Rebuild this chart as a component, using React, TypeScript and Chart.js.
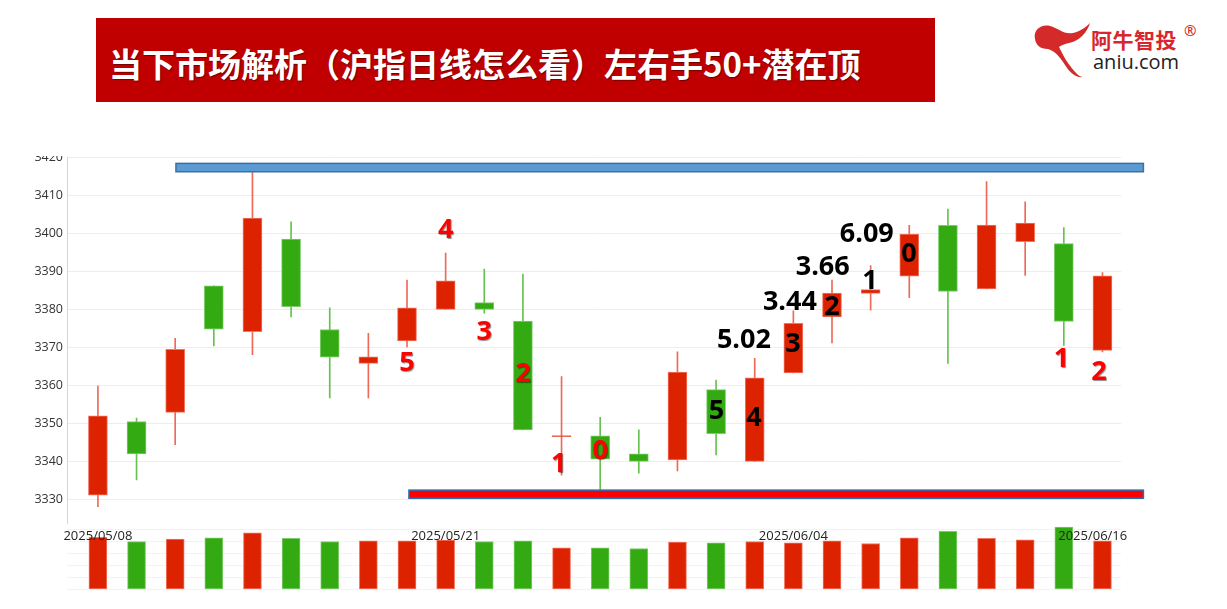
import React, { useEffect, useRef } from "react";
import { Chart, registerables } from "chart.js";
Chart.register(...registerables);

const dates = [
  "2025/05/08", "2025/05/09", "2025/05/12", "2025/05/13", "2025/05/14", "2025/05/15", "2025/05/16",
  "2025/05/19", "2025/05/20", "2025/05/21", "2025/05/22", "2025/05/23", "2025/05/26", "2025/05/27",
  "2025/05/28", "2025/05/29", "2025/05/30", "2025/06/03", "2025/06/04", "2025/06/05", "2025/06/06",
  "2025/06/09", "2025/06/10", "2025/06/11", "2025/06/12", "2025/06/13", "2025/06/16",
];
const opens = [3331.1, 3350.5, 3352.9, 3386.2, 3374.1, 3398.5, 3374.7, 3365.8, 3371.7, 3380.0, 3381.8, 3376.9, 3346.5, 3346.7, 3342.0, 3340.4, 3358.9, 3340.0, 3363.3, 3378.0, 3384.2, 3388.7, 3402.1, 3385.4, 3397.8, 3397.3, 3369.2];
const highs = [3359.8, 3351.4, 3372.4, 3386.2, 3416.6, 3403.0, 3380.4, 3373.7, 3387.7, 3394.8, 3390.6, 3389.3, 3362.3, 3351.6, 3348.3, 3368.8, 3361.4, 3367.1, 3379.6, 3387.7, 3391.5, 3402.1, 3406.4, 3413.6, 3408.3, 3401.5, 3389.7];
const lows = [3328.1, 3335.1, 3344.4, 3370.4, 3368.1, 3378.0, 3356.7, 3356.7, 3370.1, 3380.0, 3379.0, 3348.3, 3336.4, 3332.5, 3336.9, 3337.5, 3341.7, 3340.0, 3363.3, 3371.2, 3379.8, 3383.1, 3365.8, 3385.4, 3388.9, 3370.5, 3368.8];
const closes = [3352.0, 3342.0, 3369.5, 3374.8, 3404.0, 3380.7, 3367.4, 3367.5, 3380.4, 3387.5, 3380.0, 3348.3, 3346.8, 3340.6, 3340.0, 3363.5, 3347.3, 3362.0, 3376.3, 3384.3, 3385.2, 3399.8, 3384.7, 3402.2, 3402.7, 3376.8, 3388.8];
const volumes = [5160, 4760, 5000, 5130, 5630, 5060, 4760, 4830, 4830, 4900, 4760, 4830, 4130, 4130, 4060, 4700, 4630, 4760, 4630, 4830, 4560, 5130, 5760, 5060, 4930, 6200, 4830];

const priceTicks = [3330, 3340, 3350, 3360, 3370, 3380, 3390, 3400, 3410, 3420];
const dateTickIdx = [0, 9, 18, 26];

// annotation numbers written on the chart (index position, price position)
const noteTexts = ["5", "4", "3", "2", "1", "0", "5", "4", "3", "2", "1", "0", "5.02", "3.44", "3.66", "6.09", "1", "2"];
const noteIdx = [8, 9, 10, 11, 11.93, 13, 16.01, 16.98, 17.99, 19, 19.98, 20.99, 16.72, 17.91, 18.76, 19.9, 24.94, 25.91];
const notePrice = [3366.2, 3401.1, 3374.3, 3363.2, 3339.5, 3342.8, 3353.5, 3351.7, 3371.05, 3380.7, 3387.7, 3394.7, 3372.0, 3382.2, 3391.4, 3399.9, 3367.1, 3363.6];
const noteIsRed = [true, true, true, true, true, true, false, false, false, false, false, false, false, false, false, false, true, true];

// resistance / support bands
const bandLow = [3416.2, 3330.3];
const bandHigh = [3418.4, 3332.45];
const bandStart = [2.02, 8.05];
const bandEnd = [27.06, 27.06];

const RED = "#dd2200";
const GREEN = "#33aa11";
const RED_EDGE = "#f27561";
const GREEN_EDGE = "#7dcc6b";
const RED_WICK = "#ee6a58";
const GREEN_WICK = "#66c24f";

const up = opens.map((o, i) => closes[i] >= o);

const X_MIN = -0.8;
const X_MAX = 26.48;

const overlayPlugin = {
  id: "overlay",
  afterDatasetsDraw(chart: any) {
    const { ctx, scales } = chart;
    const x = scales.x;
    const y = scales.y;
    ctx.save();
    const fills = ["#5b9bd5", "#ff0000"];
    const strokes = ["#3f6f9c", "#2e6db5"];
    for (let b = 0; b < bandLow.length; b++) {
      const x0 = x.getPixelForValue(bandStart[b]);
      const x1 = x.getPixelForValue(bandEnd[b]);
      const y0 = y.getPixelForValue(bandHigh[b]);
      const y1 = y.getPixelForValue(bandLow[b]);
      ctx.fillStyle = fills[b];
      ctx.fillRect(x0, y0, x1 - x0, y1 - y0);
      ctx.strokeStyle = strokes[b];
      ctx.lineWidth = 1.5;
      ctx.strokeRect(x0, y0, x1 - x0, y1 - y0);
    }
    ctx.font = 'bold 27px "Open Sans", "Noto Sans", sans-serif';
    ctx.textAlign = "center";
    ctx.textBaseline = "middle";
    for (let k = 0; k < noteTexts.length; k++) {
      const px = x.getPixelForValue(noteIdx[k]);
      const py = y.getPixelForValue(notePrice[k]);
      if (noteIsRed[k]) {
        ctx.shadowColor = "rgba(0,0,0,0.45)";
        ctx.shadowOffsetX = 1;
        ctx.shadowOffsetY = 1;
        ctx.shadowBlur = 1;
        ctx.fillStyle = "#ff0000";
      } else {
        ctx.shadowColor = "rgba(0,0,0,0)";
        ctx.shadowOffsetX = 0;
        ctx.shadowOffsetY = 0;
        ctx.shadowBlur = 0;
        ctx.fillStyle = "#000000";
      }
      ctx.fillText(noteTexts[k], px, py + 1);
    }
    ctx.restore();
  },
};

export default function App() {
  const priceRef = useRef<HTMLCanvasElement>(null);
  const volRef = useRef<HTMLCanvasElement>(null);

  useEffect(() => {
    const bodyColors = up.map((u) => (u ? RED : GREEN));
    const edgeColors = up.map((u) => (u ? RED_EDGE : GREEN_EDGE));
    const wickColors = up.map((u) => (u ? RED_WICK : GREEN_WICK));

    const priceChart = new Chart(priceRef.current as HTMLCanvasElement, {
      type: "bar",
      data: {
        datasets: [
          {
            label: "body",
            data: opens.map((o, i) => ({ x: i, y: [o, closes[i]] })) as any,
            backgroundColor: bodyColors,
            borderColor: edgeColors,
            borderWidth: 1,
            borderSkipped: false,
            barThickness: 19,
            grouped: false,
            order: 1,
          } as any,
          {
            label: "wick",
            data: lows.map((l, i) => ({ x: i, y: [l, highs[i]] })) as any,
            backgroundColor: wickColors,
            borderWidth: 0,
            barThickness: 1,
            grouped: false,
            order: 2,
          } as any,
        ],
      },
      options: {
        animation: false,
        responsive: false,
        maintainAspectRatio: false,
        layout: { padding: { top: 17.3, right: 106, bottom: 0, left: 0 } },
        plugins: { legend: { display: false }, tooltip: { enabled: false } },
        scales: {
          x: {
            type: "linear",
            offset: false,
            min: X_MIN,
            max: X_MAX,
            grid: { display: false },
            border: { display: false },
            afterBuildTicks: (s: any) => {
              s.ticks = dateTickIdx.map((v) => ({ value: v }));
            },
            afterFit: (s: any) => {
              s.height = 27;
            },
            ticks: {
              autoSkip: false,
              maxRotation: 0,
              padding: -3,
              color: "#222",
              font: { family: '"Open Sans", sans-serif', size: 13 },
              // the last label is justified inside the plot edge, as in the source chart
              callback: (v: any) =>
                v === dates.length - 1 ? dates[v as number] + "\u2002\u2002\u2002" : dates[v as number],
            },
          } as any,
          y: {
            min: 3323.8,
            max: 3420,
            afterBuildTicks: (s: any) => {
              s.ticks = priceTicks.map((v) => ({ value: v }));
            },
            afterFit: (s: any) => {
              s.width = 67;
            },
            grid: { color: "#e9eef4", drawTicks: false },
            border: { display: true, color: "#ccd6eb" },
            ticks: {
              padding: 4,
              color: "#333",
              font: { family: '"Open Sans", sans-serif', size: 12.5 },
              callback: (v: any) => String(v),
            },
          } as any,
        },
      },
      plugins: [overlayPlugin],
    });

    const volChart = new Chart(volRef.current as HTMLCanvasElement, {
      type: "bar",
      data: {
        datasets: [
          {
            label: "volume",
            data: volumes.map((v, i) => ({ x: i, y: v })) as any,
            backgroundColor: bodyColors,
            borderColor: edgeColors,
            borderWidth: 1,
            borderSkipped: false,
            barThickness: 18,
            clip: false,
          } as any,
        ],
      },
      options: {
        animation: false,
        responsive: false,
        maintainAspectRatio: false,
        layout: { padding: { top: 9, right: 106, bottom: 10.7, left: 0 } },
        plugins: { legend: { display: false }, tooltip: { enabled: false } },
        scales: {
          x: { type: "linear", offset: false, min: X_MIN, max: X_MAX, display: false } as any,
          y: {
            min: 0,
            max: 6000,
            ticks: { display: false, stepSize: 1200 },
            grid: { color: "#f3f3f3", drawTicks: false },
            border: { display: false },
            afterFit: (s: any) => {
              s.width = 67;
            },
          } as any,
        },
      },
    });

    return () => {
      priceChart.destroy();
      volChart.destroy();
    };
  }, []);

  return (
    <div
      style={{
        position: "absolute",
        left: 0,
        top: 0,
        width: 1227,
        height: 609,
        background: "#ffffff",
        overflow: "hidden",
        fontFamily: '"Noto Sans CJK SC", sans-serif',
      }}
    >
      <div
        style={{
          position: "absolute",
          left: 96,
          top: 18,
          width: 839,
          height: 84,
          background: "#c00000",
          color: "#ffffff",
          fontWeight: 700,
          fontSize: 33,
          lineHeight: "84px",
          paddingLeft: 13,
          boxSizing: "border-box",
          whiteSpace: "nowrap",
          textShadow: "1px 1px 1px rgba(60,0,0,0.6)",
          fontFamily: '"Noto Sans CJK SC", sans-serif',
        }}
      >
        <span style={{ position: "relative", top: 3 }}>当下市场解析（沪指日线怎么看）左右手50+潜在顶</span>
      </div>

      <svg
        style={{ position: "absolute", left: 1030, top: 18 }}
        width={64}
        height={64}
        viewBox="0 0 64 64"
      >
        <path
          d="M5,21 C3,12 11,6 20,8 C28,10 34,17 43,15 C51,13 56,9 60,5 C57,15 49,23 39,25 C35,26 31,27 29,29 C33,37 38,47 47,56 C49,58 51,59 53,59 C46,60 40,55 35,47 C30,39 25,33 18,31 C10,31 6,27 5,21 Z"
          fill="#d42a2a"
        />
      </svg>
      <div
        style={{
          position: "absolute",
          left: 1091,
          top: 24,
          fontSize: 21,
          fontWeight: 700,
          color: "#d7262d",
          lineHeight: "30px",
          letterSpacing: 0.5,
          fontFamily: '"Noto Sans CJK SC", sans-serif',
        }}
      >
        阿牛智投
      </div>
      <div
        style={{
          position: "absolute",
          left: 1184,
          top: 20,
          fontSize: 15,
          color: "#d7262d",
          lineHeight: "20px",
          fontFamily: '"Noto Sans", sans-serif',
        }}
      >
        ®
      </div>
      <div
        style={{
          position: "absolute",
          left: 1093,
          top: 48,
          fontSize: 20,
          color: "#222222",
          lineHeight: "28px",
          fontFamily: '"Open Sans", sans-serif',
        }}
      >
        aniu.com
      </div>

      <div style={{ position: "absolute", left: 0, top: 520, width: 1227, height: 80 }}>
        <canvas ref={volRef} width={1227} height={80} style={{ display: "block" }} />
      </div>
      <div style={{ position: "absolute", left: 0, top: 156, width: 1227, height: 394, overflow: "hidden" }}>
        <canvas
          ref={priceRef}
          width={1227}
          height={410}
          style={{ position: "absolute", left: 0, top: -16, display: "block" }}
        />
      </div>
    </div>
  );
}
